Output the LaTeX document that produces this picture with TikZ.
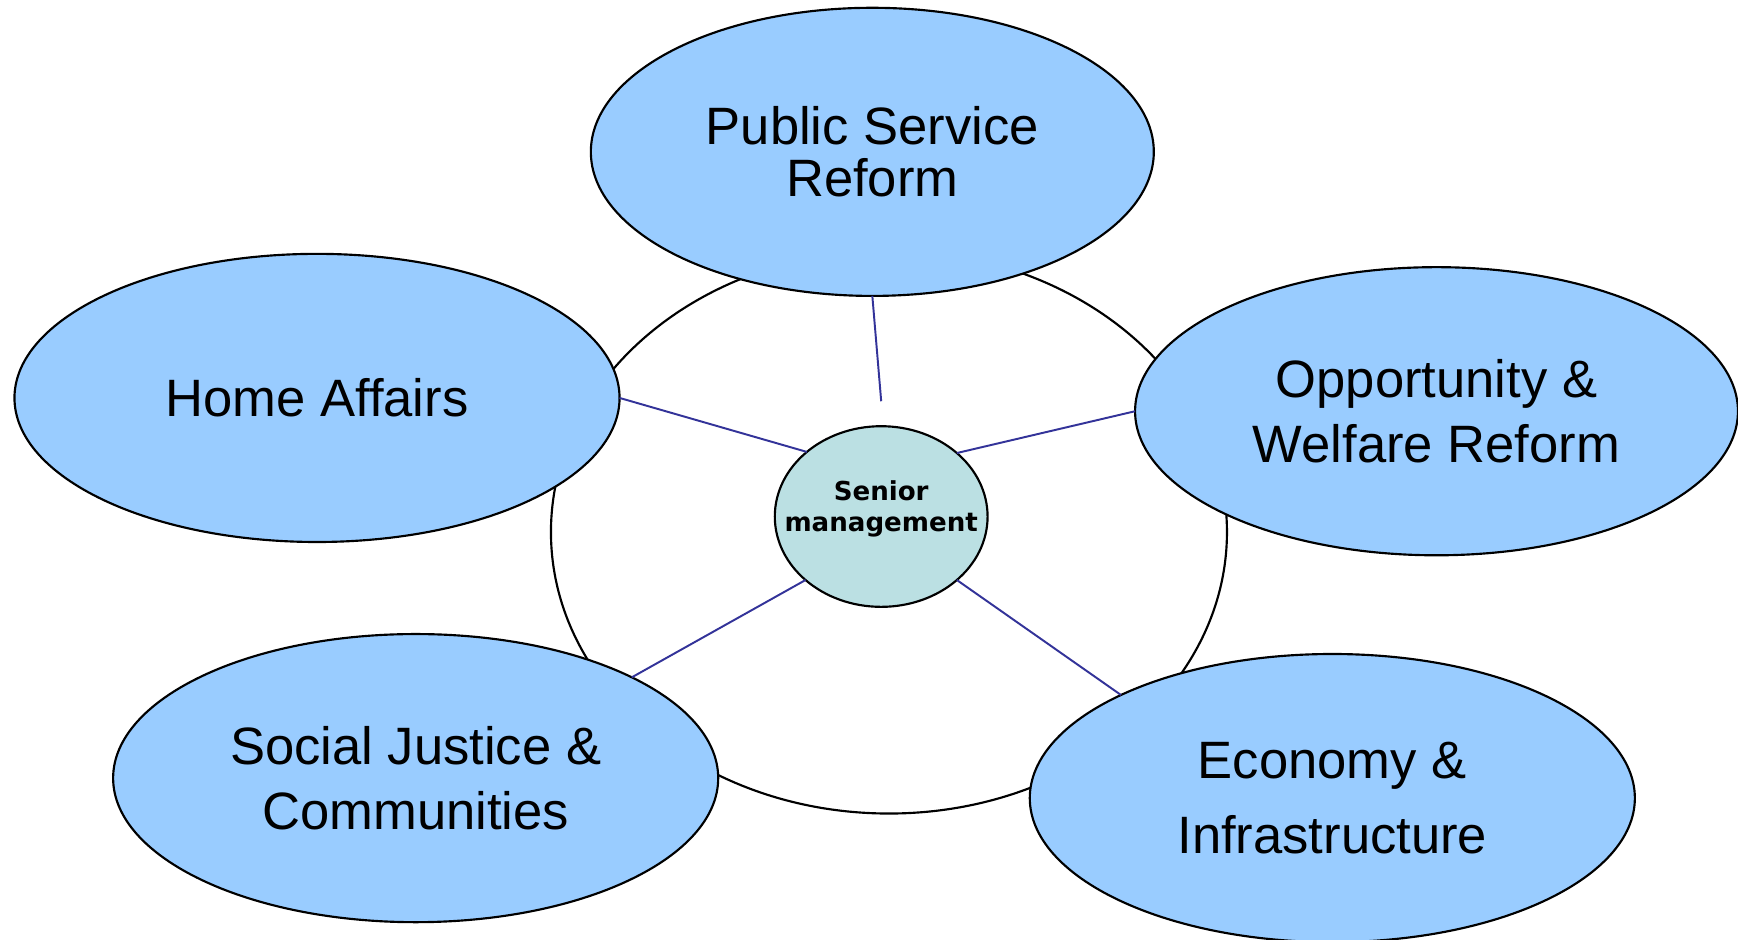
\documentclass[tikz,border=0pt]{standalone}
\usepackage{fontspec}
\setmainfont{Liberation Sans}
\newfontfamily\smfont{DejaVu Sans}
\usetikzlibrary{shapes.geometric}
\definecolor{bfill}{HTML}{99CCFF}
\definecolor{cfill}{HTML}{BBE0E3}
\definecolor{conncol}{HTML}{333399}
\begin{document}
\begin{tikzpicture}[x=0.02cm,y=-0.02cm,
  big/.style={ellipse, draw=black, fill=bfill, line width=1.1pt, inner sep=0pt, outer sep=0pt,
    align=center, minimum width=10.92cm, minimum height=5.2cm,
    font=\fontsize{27}{33}\selectfont},
  center/.style={ellipse, draw=black, fill=cfill, line width=1.1pt, inner sep=0pt, outer sep=0pt,
    minimum width=3.84cm, minimum height=3.26cm},
  smtext/.style={align=center, inner sep=0pt, font=\smfont\bfseries\fontsize{13.4}{16}\selectfont},
  ringstyle/.style={ellipse, draw=black, line width=1.1pt, inner sep=0pt, minimum width=12.2cm, minimum height=10.16cm},
  conn/.style={draw=conncol, line width=1pt}]
\useasboundingbox (0,0) rectangle (1568,848);
\node[ringstyle] (ring) at (802,480) {};
\node[big, minimum width=10.16cm, font=\fontsize{27}{26.7}\selectfont] (pub) at (787,137) {Public Service\\Reform};
\node[big] (home) at (286,359) {Home Affairs};
\node[big, minimum width=10.88cm] (opp) at (1296,371) {Opportunity \&\\Welfare Reform};
\node[big] (soc) at (375,702) {Social Justice \&\\Communities};
\node[big, font=\fontsize{27}{38.8}\selectfont] (eco) at (1202,720) {Economy \&\\Infrastructure};
\node[center] (sm) at (795,466) {};
\node[smtext] (smt) at (795,459) {Senior\\management};
\coordinate (pubend) at (795,362);
\draw[conn] (pub.south) -- (pubend);
\draw[conn] (home.east) -- (sm.139.5);
\draw[conn] (opp.west) -- (sm.40);
\draw[conn] (soc.25.5) -- (sm.220.5);
\draw[conn] (eco.154.9) -- (sm.320);
\end{tikzpicture}
\end{document}
